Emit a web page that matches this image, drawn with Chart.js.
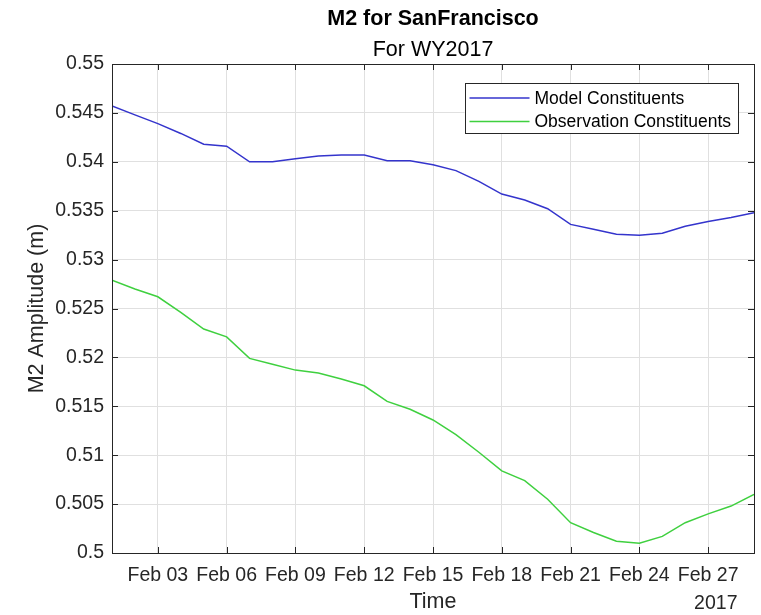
<!DOCTYPE html>
<html>
<head>
<meta charset="utf-8">
<script src="https://cdn.jsdelivr.net/npm/chart.js@4.4.1/dist/chart.umd.min.js"></script>
<style>
  html, body { margin: 0; padding: 0; background: #fff; }
  #wrap { width: 761px; height: 615px; }
  canvas { background: #fff; }
</style>
</head>
<body>
<div id="wrap"><canvas id="ampChart" width="761" height="615"></canvas></div>
<script>
// ===== Data =====
// day of February 2017 (29 = Mar 01)
const days = [1, 2, 3, 4, 5, 6, 7, 8, 9, 10, 11, 12, 13, 14, 15,
  16, 17, 18, 19, 20, 21, 22, 23, 24, 25, 26, 27, 28, 29];
const modelAmp = [0.5457, 0.5448, 0.5439, 0.5429, 0.5418, 0.5416, 0.5400, 0.5400, 0.5403, 0.5406,
  0.5407, 0.5407, 0.5401, 0.5401, 0.5397, 0.5391, 0.5380, 0.5367, 0.5361, 0.5352,
  0.5336, 0.5331, 0.5326, 0.5325, 0.5327, 0.5334, 0.5339, 0.5343, 0.5348];
const obsAmp = [0.5279, 0.5270, 0.5262, 0.5246, 0.5229, 0.5221, 0.5199, 0.5193, 0.5187, 0.5184,
  0.5178, 0.5171, 0.5155, 0.5147, 0.5136, 0.5121, 0.5103, 0.5084, 0.5074, 0.5055,
  0.5031, 0.5021, 0.5012, 0.5010, 0.5017, 0.5031, 0.5040, 0.5048, 0.5060];
const xTickDays = [3, 6, 9, 12, 15, 18, 21, 24, 27];
const xTickLabels = ['Feb 03', 'Feb 06', 'Feb 09', 'Feb 12', 'Feb 15', 'Feb 18', 'Feb 21', 'Feb 24', 'Feb 27'];
const yTickValues = [0.5, 0.505, 0.51, 0.515, 0.52, 0.525, 0.53, 0.535, 0.54, 0.545, 0.55];
const seriesNames = ['Model Constituents', 'Observation Constituents'];

const FONT = '"Liberation Sans", Arial, Helvetica, sans-serif';
const AXIS_COLOR = '#262626';
const GRID_COLOR = '#e0e0e0';
const COLORS = ['#3434cc', '#3fd03f'];
const TICK_SIZE = 19.5;
const LABEL_SIZE = 21.5;
const LEGEND_SIZE = 17.5;

// ===== Extras drawn on top (box, inner ticks, titles, legend) =====
const matlabLook = {
  id: 'matlabLook',
  afterDraw(chart) {
    const { ctx, chartArea: a, scales } = chart;
    const tickLen = 6;
    ctx.save();
    ctx.strokeStyle = AXIS_COLOR;
    ctx.lineWidth = 1;
    ctx.beginPath();
    xTickDays.forEach((d) => {
      const x = Math.round(scales.x.getPixelForValue(d)) + 0.5;
      ctx.moveTo(x, a.bottom); ctx.lineTo(x, a.bottom - tickLen);
      ctx.moveTo(x, a.top); ctx.lineTo(x, a.top + tickLen);
    });
    yTickValues.forEach((v) => {
      const y = Math.round(scales.y.getPixelForValue(v)) + 0.5;
      ctx.moveTo(a.left, y); ctx.lineTo(a.left + tickLen, y);
      ctx.moveTo(a.right, y); ctx.lineTo(a.right - tickLen, y);
    });
    ctx.stroke();
    ctx.strokeRect(Math.round(a.left) + 0.5, Math.round(a.top) + 0.5,
      Math.round(a.right - a.left), Math.round(a.bottom - a.top));

    // titles
    const cx = (a.left + a.right) / 2;
    ctx.fillStyle = '#000';
    ctx.textAlign = 'center';
    ctx.textBaseline = 'alphabetic';
    ctx.font = 'bold ' + LABEL_SIZE + 'px ' + FONT;
    ctx.fillText('M2 for SanFrancisco', cx, 25);
    ctx.font = LABEL_SIZE + 'px ' + FONT;
    ctx.fillText('For WY2017', cx, 56);

    // year under last tick label
    ctx.font = TICK_SIZE + 'px ' + FONT;
    ctx.fillStyle = AXIS_COLOR;
    ctx.textBaseline = 'middle';
    const lastX = scales.x.getPixelForValue(xTickDays[xTickDays.length - 1]);
    const lastW = ctx.measureText(xTickLabels[xTickLabels.length - 1]).width;
    ctx.textAlign = 'right';
    ctx.fillText('2017', lastX + lastW / 2 - 1, 604);

    // legend
    ctx.font = LEGEND_SIZE + 'px ' + FONT;
    const textW = Math.max(...seriesNames.map((n) => ctx.measureText(n).width));
    const boxRight = a.right - 16;
    const textX = boxRight - 7 - textW;
    const boxLeft = textX - 70;
    const boxTop = a.top + 19;
    const boxBottom = boxTop + 50;
    ctx.fillStyle = '#fff';
    ctx.fillRect(boxLeft, boxTop, boxRight - boxLeft, boxBottom - boxTop);
    ctx.strokeStyle = AXIS_COLOR;
    ctx.strokeRect(Math.round(boxLeft) + 0.5, boxTop + 0.5, Math.round(boxRight - boxLeft), boxBottom - boxTop);
    ctx.textAlign = 'left';
    seriesNames.forEach((name, i) => {
      const y = boxTop + 15 + i * 23.5;
      ctx.strokeStyle = COLORS[i];
      ctx.lineWidth = 1.5;
      ctx.beginPath();
      ctx.moveTo(boxLeft + 5, y); ctx.lineTo(textX - 5, y);
      ctx.stroke();
      ctx.fillStyle = '#000';
      ctx.fillText(name, textX, y + 1);
    });
    ctx.restore();
  },
};

// ===== Chart =====
const ctx = document.getElementById('ampChart').getContext('2d');
const chart = new Chart(ctx, {
  type: 'line',
  data: {
    datasets: [
      {
        label: seriesNames[0],
        data: days.map((d, i) => ({ x: d, y: modelAmp[i] })),
        borderColor: COLORS[0],
        borderWidth: 1.5,
        pointRadius: 0,
        tension: 0,
        fill: false,
      },
      {
        label: seriesNames[1],
        data: days.map((d, i) => ({ x: d, y: obsAmp[i] })),
        borderColor: COLORS[1],
        borderWidth: 1.5,
        pointRadius: 0,
        tension: 0,
        fill: false,
      },
    ],
  },
  options: {
    responsive: false,
    animation: false,
    devicePixelRatio: 1,
    layout: { padding: { top: 64, right: 7, left: 0, bottom: 0 } },
    plugins: {
      legend: { display: false },
      title: { display: false },
      tooltip: { enabled: false },
    },
    scales: {
      x: {
        type: 'linear',
        min: days[0],
        max: days[days.length - 1],
        afterBuildTicks: (s) => { s.ticks = xTickDays.map((v) => ({ value: v })); },
        afterFit: (s) => { s.height = 62; },
        border: { display: false },
        grid: { color: GRID_COLOR, drawTicks: false },
        ticks: {
          autoSkip: false,
          maxRotation: 0,
          padding: 11,
          color: AXIS_COLOR,
          font: { family: FONT, size: TICK_SIZE },
          callback: (v) => xTickLabels[xTickDays.indexOf(v)],
        },
        title: {
          display: true,
          text: 'Time',
          color: AXIS_COLOR,
          font: { family: FONT, size: LABEL_SIZE },
          padding: { top: -3, bottom: 0 },
        },
      },
      y: {
        min: 0.5,
        max: 0.55,
        afterBuildTicks: (s) => { s.ticks = yTickValues.map((v) => ({ value: v })); },
        afterFit: (s) => { s.width = 112; },
        border: { display: false },
        grid: { color: GRID_COLOR, drawTicks: false },
        ticks: {
          padding: 8,
          color: AXIS_COLOR,
          font: { family: FONT, size: TICK_SIZE },
          callback: (v) => String(+v.toFixed(3)),
        },
        title: {
          display: true,
          text: 'M2 Amplitude (m)',
          color: AXIS_COLOR,
          font: { family: FONT, size: LABEL_SIZE },
          padding: { top: 24, bottom: 0 },
        },
      },
    },
  },
  plugins: [matlabLook],
});
</script>
</body>
</html>
